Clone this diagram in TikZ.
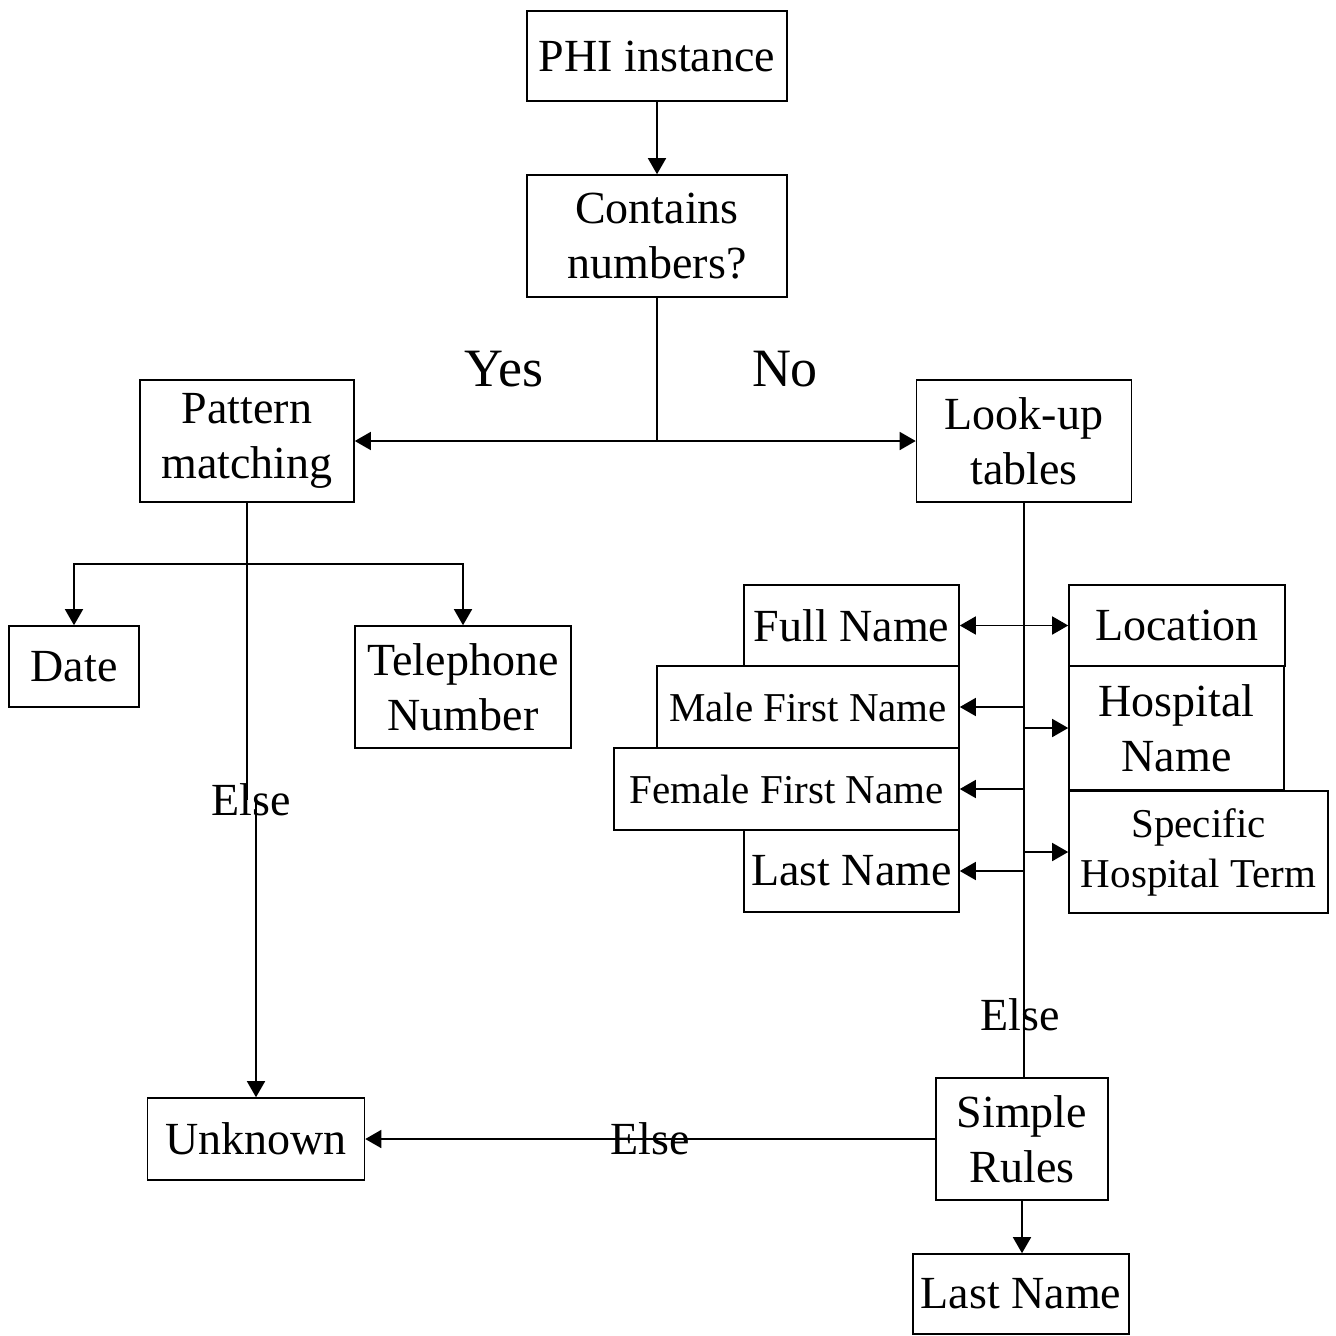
\documentclass[tikz,border=0pt]{standalone}
\usepackage{fontspec}
\setmainfont{Liberation Serif}
\usetikzlibrary{arrows.meta}
\begin{document}
\begin{tikzpicture}[x=1pt,y=-1pt,
  box/.style={draw, line width=1.6pt, inner sep=0pt, align=center, font=\fontsize{46}{55}\selectfont},
  sbox/.style={box, font=\fontsize{41}{50}\selectfont},
  lbl/.style={inner sep=0pt, font=\fontsize{46}{55}\selectfont},
  biglbl/.style={inner sep=0pt, font=\fontsize{54}{60}\selectfont},
  conn/.style={line width=1.6pt},
  arr/.style={conn, -{Triangle[length=16pt,width=18pt]}},
  darr/.style={conn, {Triangle[length=16pt,width=18pt]}-{Triangle[length=16pt,width=18pt]}},
]
\useasboundingbox (0,0) rectangle (1336,1336);
\fill[white] (0,0) rectangle (1336,1336);

\node[box, minimum width=260pt, minimum height=90pt] (phi) at (657,56) {PHI instance};
\node[box, minimum width=260pt, minimum height=122pt] (cont) at (657,236) {Contains\\numbers?};
\node[box, minimum width=214pt, minimum height=122pt] (pat) at (247,441) {Pattern\\matching};
\node[box, minimum width=215pt, minimum height=122pt] (look) at (1024,441) {Look-up\\tables};
\node[box, minimum width=130pt, minimum height=81pt] (date) at (74,666.5) {Date};
\node[box, minimum width=216pt, minimum height=122pt] (tel) at (463,687) {Telephone\\Number};
\node[box, minimum width=215pt, minimum height=81pt] (full) at (851.5,625.5) {Full Name};
\node[sbox, minimum width=302pt, minimum height=82pt] (male) at (808,707) {Male First Name};
\node[sbox, minimum width=345pt, minimum height=82pt] (fem) at (786.5,789) {Female First Name};
\node[box, minimum width=215pt, minimum height=82pt] (last) at (851.5,871) {Last Name};
\node[box, minimum width=216pt, minimum height=81pt] (loc) at (1177,625.5) {Location};
\node[box, minimum width=215pt, minimum height=124pt] (hosp) at (1176.5,728) {Hospital\\Name};
\node[sbox, minimum width=259pt, minimum height=122pt] (spec) at (1198.5,852) {Specific\\Hospital Term};
\node[box, minimum width=217pt, minimum height=82pt] (unk) at (256,1139) {Unknown};
\node[box, minimum width=172pt, minimum height=122pt] (simp) at (1022,1139) {Simple\\Rules};
\node[box, minimum width=216pt, minimum height=80pt] (last2) at (1021,1294) {Last Name};

\node[biglbl] (yes) at (504,369) {Yes};
\node[biglbl] (no) at (785,369) {No};
\node[lbl] (else1) at (251,800) {Else};
\node[lbl] (else2) at (1020,1015) {Else};
\node[lbl] (else3) at (650,1139) {Else};

\coordinate (j1) at (657,441);
\coordinate (j2) at (247,564);

\draw[arr] (phi) -- (cont);
\draw[conn] (cont.south) -- (j1);
\draw[arr] (j1) -- (pat.east);
\draw[arr] (j1) -- (look.west);

\draw[conn] (pat.south) -- (pat.south |- else1.center);
\draw[arr] (j2) -| (date.north);
\draw[arr] (j2) -| (tel.north);
\draw[arr] (else1.center -| unk.north) -- (unk.north);

\draw[conn] (look.south) -- (look.south |- simp.north);
\draw[darr] (full.east) -- (loc.west);
\draw[arr] (look.south |- male.east) -- (male.east);
\draw[arr] (look.south |- hosp.west) -- (hosp.west);
\draw[arr] (look.south |- fem.east) -- (fem.east);
\draw[arr] (look.south |- spec.west) -- (spec.west);
\draw[arr] (look.south |- last.east) -- (last.east);

\draw[arr] (simp.west) -- (unk.east);
\draw[arr] (simp.south) -- (simp.south |- last2.north);
\end{tikzpicture}
\end{document}
